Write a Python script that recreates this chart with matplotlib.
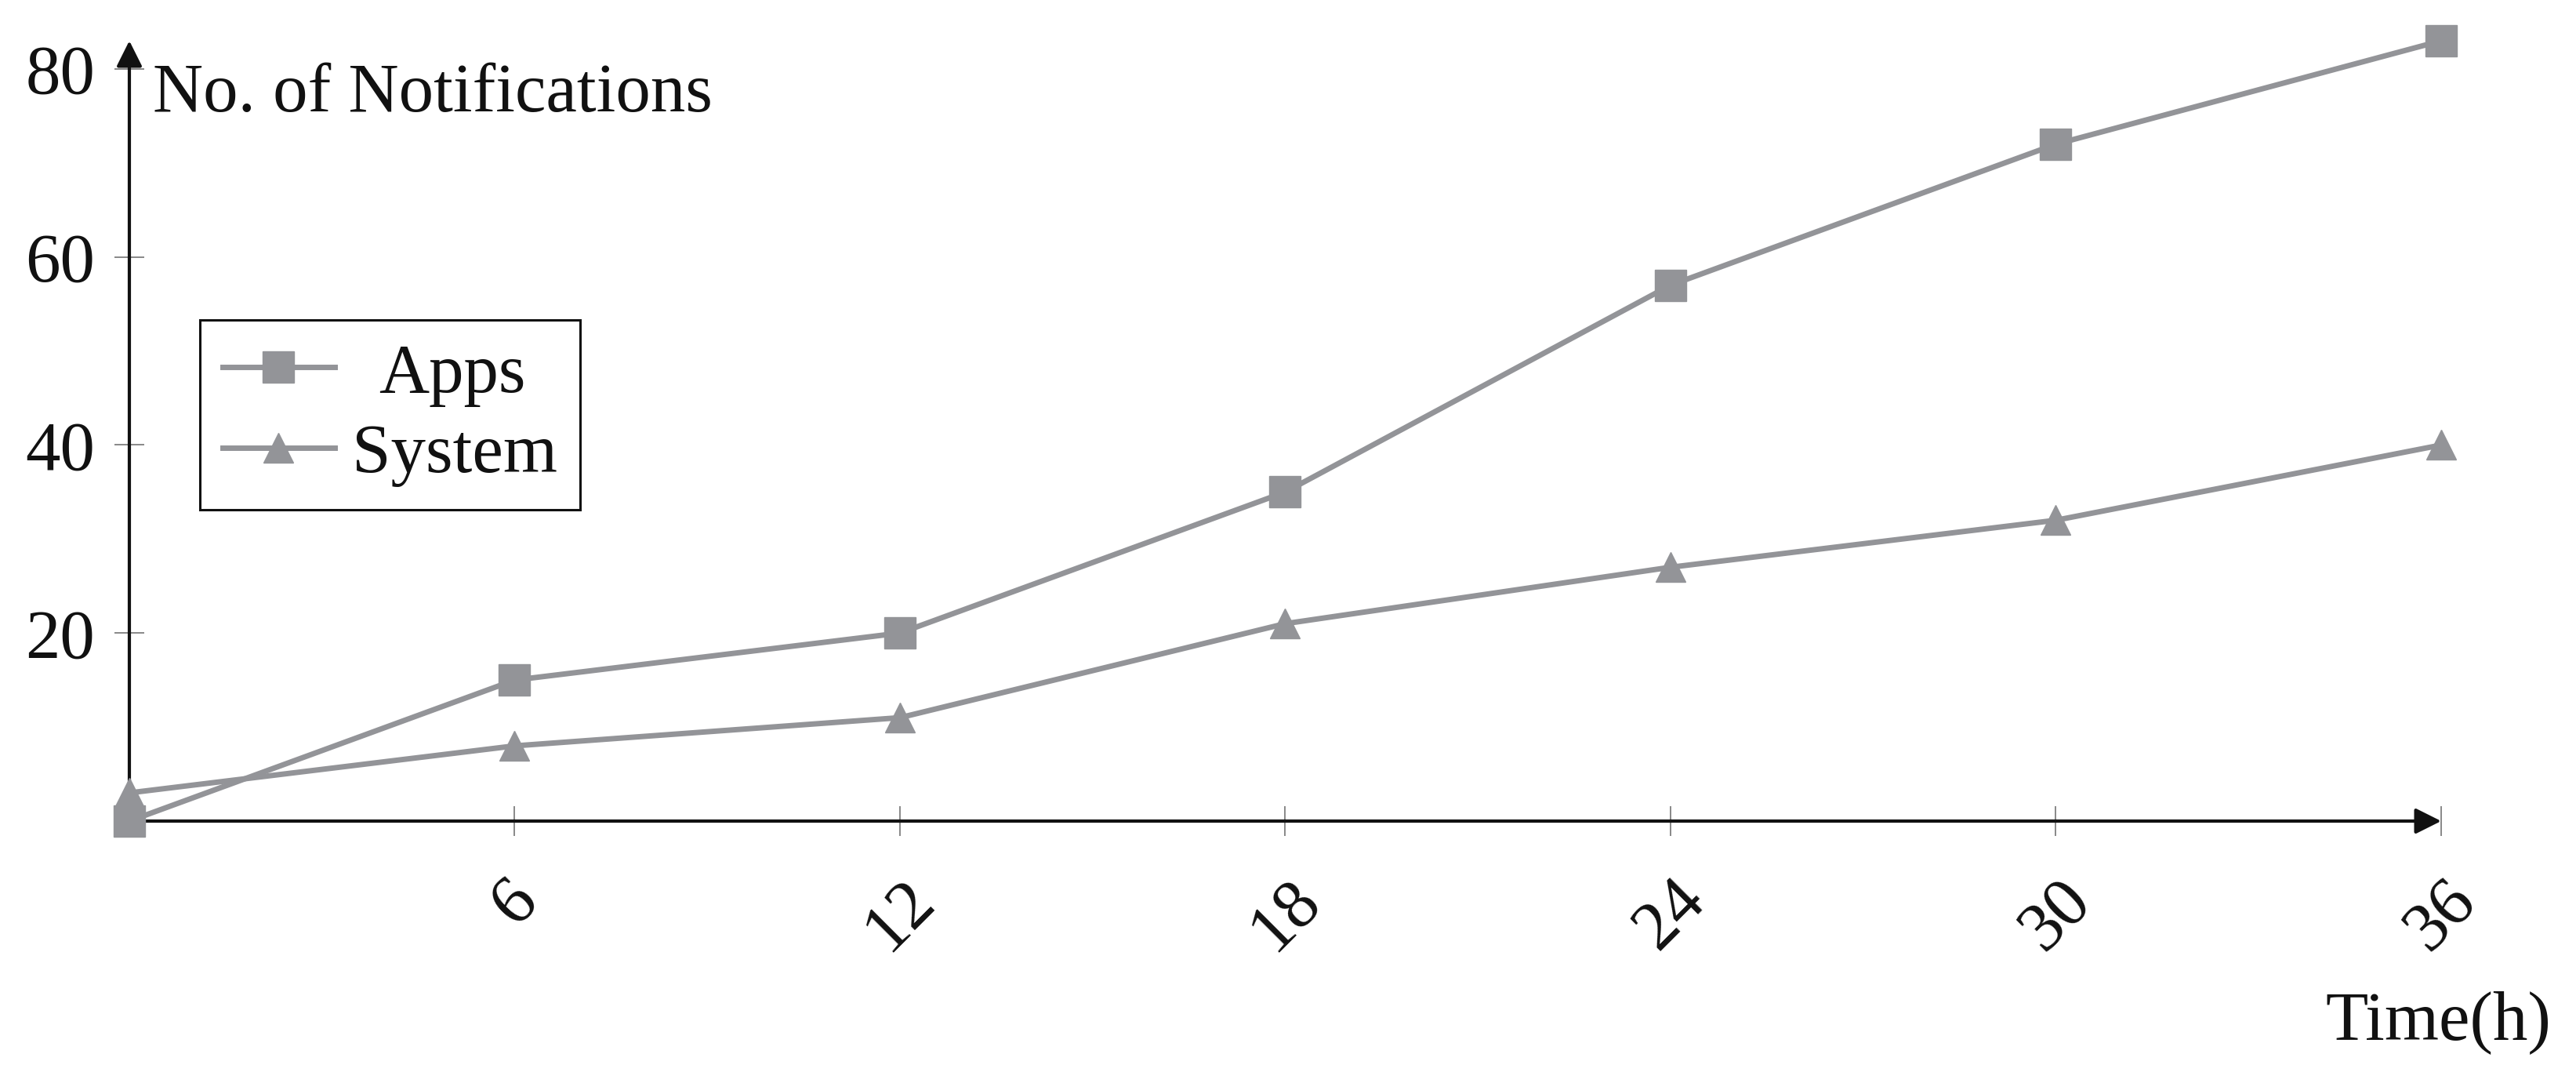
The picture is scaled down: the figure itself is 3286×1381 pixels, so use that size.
import numpy as np
import matplotlib
matplotlib.use("Agg")
import matplotlib.pyplot as plt

plt.rcParams['font.family'] = ['Liberation Serif', 'DejaVu Serif']

hours = [0, 6, 12, 18, 24, 30, 36]
apps = [0, 15, 20, 35, 57, 72, 83]
system = [3, 8, 11, 21, 27, 32, 40]
xtick_vals = [6, 12, 18, 24, 30, 36]
ytick_vals = [20, 40, 60, 80]

grey = '#939498'
fs = 64

fig = plt.figure(figsize=(32.87, 13.81), dpi=100)
ax = fig.add_axes([165/3287, 334/1381, 2949/3287, 995/1381])

ax.plot(hours, apps, color=grey, lw=5, marker='s', ms=29, clip_on=False, label='Apps', zorder=3)
ax.plot(hours, system, color=grey, lw=5, marker='^', ms=28, clip_on=False, label='System', zorder=3)

ax.set_xlim(0, 36)
ax.set_ylim(0, 83)

for s in ax.spines.values():
    s.set_visible(False)

# axis lines with arrow heads
arrow = dict(arrowstyle='-|>', color='#111111', lw=3, mutation_scale=50, shrinkA=0, shrinkB=0)
ax.annotate('', xy=(1, 0), xytext=(0, 0), xycoords='axes fraction', textcoords='axes fraction',
            arrowprops=arrow, zorder=2)
ax.annotate('', xy=(0, 1), xytext=(0, 0), xycoords='axes fraction', textcoords='axes fraction',
            arrowprops=arrow, zorder=2)

ax.set_xticks(xtick_vals)
ax.set_xticklabels([str(v) for v in xtick_vals], rotation=45, ha='center')
ax.set_yticks(ytick_vals)
ax.tick_params(axis='both', direction='inout', length=27, width=1.4, color='#888888',
               labelsize=fs, labelcolor='#111111')
ax.tick_params(axis='x', pad=30)
ax.tick_params(axis='y', pad=18)

ax.text(0.0102, 0.9095, 'No. of Notifications', transform=ax.transAxes, fontsize=fs,
        ha='left', va='baseline', color='#111111')
ax.text(1.0475, -0.2794, 'Time(h)', transform=ax.transAxes, fontsize=fs,
        ha='right', va='baseline', color='#111111')

leg = ax.legend(loc='upper left', bbox_to_anchor=(255/3287, 1 - 408/1381),
                bbox_transform=fig.transFigure, fontsize=fs, frameon=True, fancybox=False,
                framealpha=1, edgecolor='#111111', borderaxespad=0, handlelength=1.6,
                handletextpad=0.25, labelspacing=0.24, borderpad=0.33)
leg.get_frame().set_linewidth(2.2)
for t in leg.get_texts():
    t.set_color('#111111')
leg.get_texts()[0].set_x(34)

fig.savefig('out.png', dpi=100, facecolor='white')
